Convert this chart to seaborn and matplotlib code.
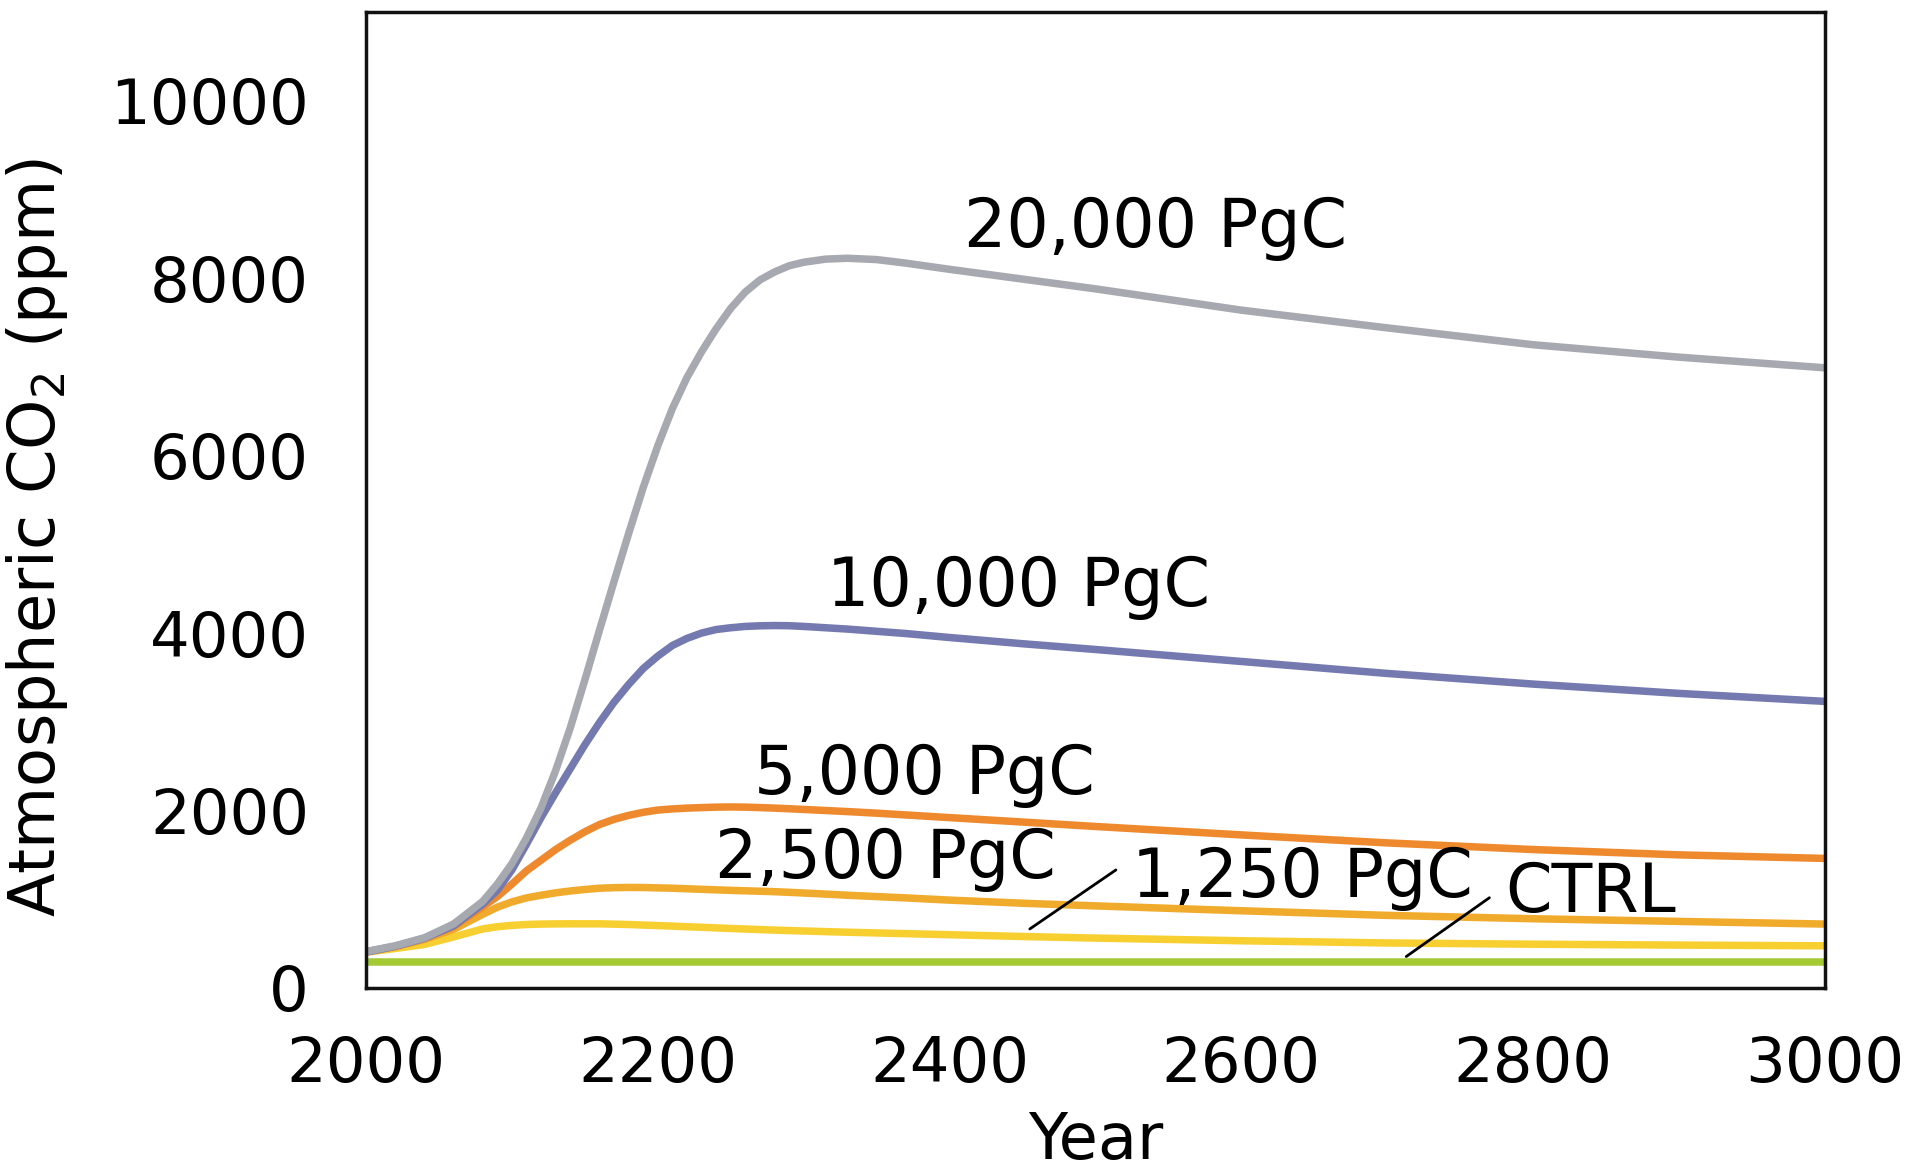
import pandas as pd
import seaborn as sns
import matplotlib.pyplot as plt

# values (ppm)
years = [2000, 2020, 2040, 2060, 2080, 2090, 2100, 2110, 2120, 2130, 2140, 2150, 2160,
         2170, 2180, 2190, 2200, 2210, 2220, 2230, 2240, 2250, 2260, 2270, 2280, 2290,
         2300, 2315, 2330, 2350, 2370, 2400, 2450, 2500, 2600, 2700, 2800, 2900, 3000]

co2_20000 = [410, 475, 565, 720, 975, 1170, 1400, 1690, 2030, 2450, 2930, 3470, 4030,
             4580, 5120, 5640, 6110, 6530, 6880, 7170, 7430, 7660, 7845, 7980, 8070, 8140,
             8180, 8215, 8225, 8210, 8170, 8100, 7990, 7880, 7640, 7440, 7250, 7110, 6990]
co2_10000 = [405, 470, 560, 700, 945, 1100, 1330, 1620, 1920, 2200, 2470, 2740, 2990,
             3220, 3420, 3600, 3740, 3860, 3940, 4000, 4040, 4060, 4075, 4082, 4085, 4083,
             4075, 4060, 4045, 4020, 3995, 3950, 3880, 3815, 3680, 3545, 3425, 3320, 3230]
co2_5000 = [405, 468, 555, 690, 915, 1030, 1170, 1320, 1440, 1560, 1665, 1760, 1842,
            1900, 1945, 1980, 2005, 2018, 2027, 2033, 2038, 2040, 2038, 2033, 2027, 2020,
            2012, 2000, 1988, 1970, 1950, 1920, 1870, 1820, 1725, 1635, 1560, 1500, 1460]
co2_2500 = [405, 465, 545, 660, 830, 910, 970, 1015, 1045, 1072, 1093, 1110, 1124,
            1130, 1133, 1132, 1128, 1124, 1118, 1112, 1106, 1100, 1095, 1090, 1085, 1078,
            1070, 1058, 1045, 1030, 1015, 990, 955, 925, 870, 818, 780, 750, 720]
co2_1250 = [403, 445, 490, 575, 665, 690, 705, 715, 720, 722, 723, 723, 723,
            719, 715, 709, 703, 697, 690, 684, 677, 670, 664, 658, 652, 647,
            642, 635, 628, 620, 612, 600, 580, 562, 532, 507, 493, 483, 475]
ctrl_years = [2000, 2500, 3000]
co2_ctrl = [297, 297, 297]

runs = ['CTRL', '1,250 PgC', '2,500 PgC', '5,000 PgC', '10,000 PgC', '20,000 PgC']
colors = ['#a4c933', '#f8cf31', '#f0ab2d', '#ee8a2d', '#7479b0', '#a6a9b0']

# label positions (left edge, baseline)
label_x = [2781, 2525, 2239, 2266, 2316, 2410]
label_y = [860, 1030, 1243, 2182, 4309, 8356]

# leader lines for the two crowded labels
lead_1250_x = [2455, 2514]
lead_1250_y = [665, 1330]
lead_ctrl_x = [2713, 2770]
lead_ctrl_y = [354, 1017]

series = [co2_ctrl, co2_1250, co2_2500, co2_5000, co2_10000, co2_20000]
xs = [ctrl_years] + [years] * 5
df = pd.concat([pd.DataFrame({'Year': x, 'CO2': v, 'run': r})
                for r, x, v in zip(runs, xs, series)])

sns.set_theme(style='white')
plt.rcParams['font.family'] = ['DejaVu Sans']
plt.rcParams['text.color'] = 'black'
plt.rcParams['axes.labelcolor'] = 'black'
plt.rcParams['xtick.labelcolor'] = 'black'
plt.rcParams['ytick.labelcolor'] = 'black'

fig = plt.figure(figsize=(19.17, 11.70), dpi=100)
ax = fig.add_axes([0.1909, 0.1556, 0.7611, 0.8341])

sns.lineplot(data=df, x='Year', y='CO2', hue='run', hue_order=runs,
             palette=dict(zip(runs, colors)), linewidth=5.4, legend=False, ax=ax)

for r, x, y in zip(runs, label_x, label_y):
    ax.text(x, y, r, fontsize=48, ha='left', va='baseline', color='black')

ax.plot(lead_1250_x, lead_1250_y, color='black', lw=2)
ax.plot(lead_ctrl_x, lead_ctrl_y, color='black', lw=2)

ax.set_xlim(2000, 3000)
ax.set_ylim(0, 11000)
ax.set_xticks([2000, 2200, 2400, 2600, 2800, 3000])
ax.set_yticks([0, 2000, 4000, 6000, 8000, 10000])

ax.set_xlabel('Year', fontsize=46, color='black')
ax.set_ylabel('Atmospheric CO$_2$ (ppm)', fontsize=46, color='black')
ax.xaxis.set_label_coords(0.5, -0.125)
ax.yaxis.set_label_coords(-0.203, 0.461)

ax.tick_params(axis='both', direction='out', length=16, width=1.2, color='#888888',
               labelsize=45, labelcolor='black')
ax.tick_params(axis='y', pad=25)
ax.tick_params(axis='x', pad=18)

for s in ax.spines.values():
    s.set_color('#111111')
    s.set_linewidth(2.5)

fig.savefig('out.png', dpi=100, facecolor='white')
